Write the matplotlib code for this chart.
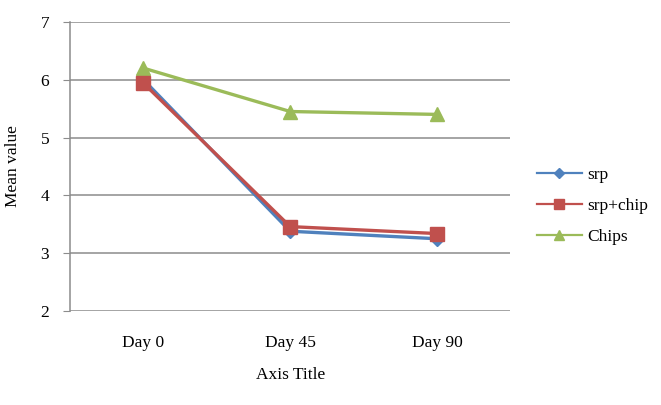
import matplotlib.pyplot as plt
import numpy as np

days = ["Day 0", "Day 45", "Day 90"]
srp = [6.00, 3.38, 3.25]
srp_chip = [5.94, 3.46, 3.34]
chips = [6.20, 5.45, 5.40]

plt.rcParams['font.family'] = ['Liberation Serif', 'DejaVu Serif']

fig = plt.figure(figsize=(6.61, 4.05), dpi=100)
ax = fig.add_axes([0.106, 0.232, 0.666, 0.714])

x = np.arange(len(days))
ax.plot(x, srp, color='#4F81BD', lw=2.4, marker='D', ms=7, label='srp', zorder=3)
ax.plot(x, srp_chip, color='#C0504D', lw=2.4, marker='s', ms=9.5, label='srp+chip', zorder=4)
ax.plot(x, chips, color='#9BBB59', lw=2.4, marker='^', ms=10, label='Chips', zorder=3)

ax.set_xlim(-0.5, 2.5)
ax.set_ylim(2, 7)
ax.set_yticks([2, 3, 4, 5, 6, 7])
ax.set_xticks(x)
ax.set_xticklabels(days)
ax.grid(axis='y', color='#8c8c8c', lw=1.1)
ax.set_axisbelow(True)
for s in ['top', 'right', 'bottom']:
    ax.spines[s].set_visible(False)
ax.spines['left'].set_color('#8c8c8c')
ax.spines['left'].set_linewidth(1.1)
ax.tick_params(axis='y', length=5, color='#8c8c8c', labelsize=12.5, pad=10)
ax.tick_params(axis='x', length=0, labelsize=12.5, pad=17)

ax.set_xlabel('Axis Title', fontsize=12.5, labelpad=12)
ax.set_ylabel('Mean value', fontsize=12.5, labelpad=14)

leg = ax.legend(loc='center left', bbox_to_anchor=(1.025, 0.363), frameon=False,
                fontsize=12.5, handlelength=2.6, labelspacing=0.85, markerscale=0.75,
                handletextpad=0.3)
for line in leg.get_lines():
    line.set_linewidth(1.6)

fig.savefig('out.png', dpi=100)
